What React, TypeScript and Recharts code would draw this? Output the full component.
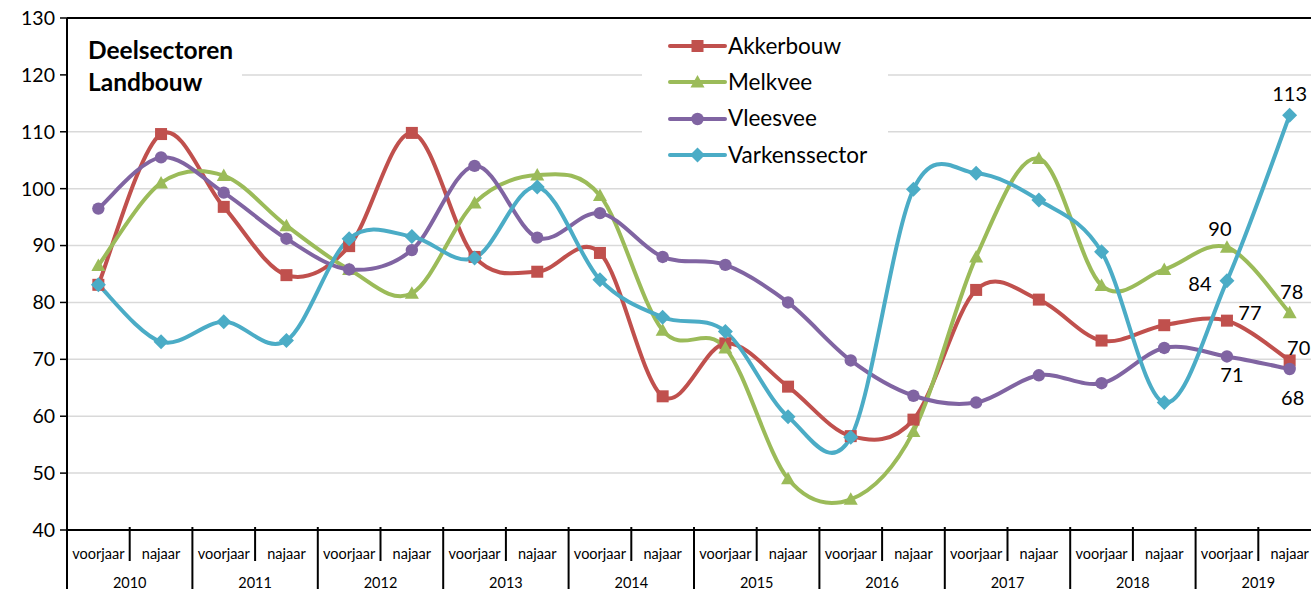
import React from "react";
import {
  LineChart,
  Line,
  XAxis,
  YAxis,
  CartesianGrid,
  Legend,
  LabelList,
  ReferenceLine,
} from "recharts";

const years = ["2010", "2011", "2012", "2013", "2014", "2015", "2016", "2017", "2018", "2019"];
const seasons = ["voorjaar", "najaar"];

const akkerbouw = [83.1, 109.6, 96.8, 84.8, 89.9, 109.8, 88.0, 85.4, 88.7, 63.5, 72.8, 65.2, 56.5, 59.4, 82.2, 80.5, 73.3, 76.0, 76.8, 69.8];
const melkvee = [86.5, 101.0, 102.3, 93.5, 85.8, 81.6, 97.5, 102.4, 98.8, 75.1, 72.0, 49.0, 45.4, 57.3, 88.0, 105.3, 83.0, 85.8, 89.7, 78.2];
const vleesvee = [96.5, 105.5, 99.3, 91.2, 85.8, 89.2, 104.0, 91.4, 95.7, 88.0, 86.6, 80.0, 69.8, 63.6, 62.4, 67.2, 65.8, 72.0, 70.5, 68.3];
const varkenssector = [83.1, 73.1, 76.6, 73.3, 91.2, 91.6, 87.8, 100.3, 84.0, 77.4, 74.9, 59.9, 56.3, 99.9, 102.7, 98.0, 88.9, 62.4, 83.8, 112.9];

const yTicks = [40, 50, 60, 70, 80, 90, 100, 110, 120, 130];

const data = years.flatMap((year, yi) =>
  seasons.map((season, si) => {
    const i = yi * 2 + si;
    return {
      cat: `${season} ${year}`,
      season,
      year,
      akkerbouw: akkerbouw[i],
      melkvee: melkvee[i],
      vleesvee: vleesvee[i],
      varkenssector: varkenssector[i],
    };
  })
);

const series = [
  { key: "akkerbouw", name: "Akkerbouw", color: "#C0504D", shape: "square" },
  { key: "melkvee", name: "Melkvee", color: "#9BBB59", shape: "triangle" },
  { key: "vleesvee", name: "Vleesvee", color: "#8064A2", shape: "circle" },
  { key: "varkenssector", name: "Varkenssector", color: "#4BACC6", shape: "diamond" },
];

// where the value labels of the last two points sit, relative to the point
const labelOffsets: Record<string, Record<number, [number, number]>> = {
  akkerbouw: { 18: [23, -9], 19: [9, -13] },
  melkvee: { 18: [-7, -19], 19: [2, -22] },
  vleesvee: { 18: [5, 18], 19: [3, 28] },
  varkenssector: { 18: [-27, 2], 19: [0, -22] },
};

const FONT = "Lato, 'Open Sans', sans-serif";
const CHART_W = 1322;
const CHART_H = 589;
const Y_W = 67;
const X_H = 59;
const M_TOP = 18;
const M_RIGHT = 1;
const BAND = (CHART_W - Y_W - M_RIGHT) / data.length;

// Excel-like smoothed line (Catmull-Rom through the points)
const excelCurve = (context: any) => {
  let pts: number[][] = [];
  return {
    areaStart() {},
    areaEnd() {},
    lineStart() {
      pts = [];
    },
    point(x: number, y: number) {
      pts.push([+x, +y]);
    },
    lineEnd() {
      const n = pts.length;
      if (!n) return;
      context.moveTo(pts[0][0], pts[0][1]);
      for (let i = 0; i < n - 1; i++) {
        const p0 = pts[Math.max(i - 1, 0)];
        const p1 = pts[i];
        const p2 = pts[i + 1];
        const p3 = pts[Math.min(i + 2, n - 1)];
        context.bezierCurveTo(
          p1[0] + (p2[0] - p0[0]) / 6,
          p1[1] + (p2[1] - p0[1]) / 6,
          p2[0] - (p3[0] - p1[0]) / 6,
          p2[1] - (p3[1] - p1[1]) / 6,
          p2[0],
          p2[1]
        );
      }
    },
  };
};

function Marker({ shape, cx, cy, color }: { shape: string; cx: number; cy: number; color: string }) {
  if (shape === "square") {
    return <rect x={cx - 6} y={cy - 6} width={12} height={12} fill={color} />;
  }
  if (shape === "triangle") {
    return <path d={`M${cx},${cy - 7}L${cx + 7},${cy + 5.5}L${cx - 7},${cy + 5.5}Z`} fill={color} />;
  }
  if (shape === "diamond") {
    return <path d={`M${cx},${cy - 7.5}L${cx + 7.5},${cy}L${cx},${cy + 7.5}L${cx - 7.5},${cy}Z`} fill={color} />;
  }
  return <circle cx={cx} cy={cy} r={6.2} fill={color} />;
}

const makeDot = (shape: string, color: string) => (props: any) => {
  const { cx, cy, index } = props;
  if (cx == null || cy == null) return <g key={`d-${index}`} />;
  return (
    <g key={`d-${index}`}>
      <Marker shape={shape} cx={cx} cy={cy} color={color} />
    </g>
  );
};

const makeLabel = (key: string) => (props: any) => {
  const { x, y, value, index } = props;
  const off = labelOffsets[key][index];
  if (!off) return null;
  return (
    <text
      x={x + off[0]}
      y={y + off[1]}
      textAnchor="middle"
      dominantBaseline="central"
      fontFamily={FONT}
      fontSize={20}
      fill="#000"
    >
      {Math.round(value)}
    </text>
  );
};

function SeasonTick(props: any) {
  const { x, y, payload, index } = props;
  const i = payload?.index ?? index;
  const item = data[i];
  const left = x - BAND / 2;
  const isYearStart = i % 2 === 0;
  return (
    <g>
      <line
        x1={left}
        x2={left}
        y1={y - 3}
        y2={isYearStart ? y + 62 : y + 31}
        stroke="#000"
        strokeWidth={2}
      />
      {i === data.length - 1 && (
        <line x1={x + BAND / 2} x2={x + BAND / 2} y1={y - 3} y2={y + 62} stroke="#000" strokeWidth={2} />
      )}
      <text x={x} y={y + 23} textAnchor="middle" dominantBaseline="central" fontFamily={FONT} fontSize={14.5} fill="#000">
        {item.season}
      </text>
      {isYearStart && (
        <text x={x + BAND / 2} y={y + 52} textAnchor="middle" dominantBaseline="central" fontFamily={FONT} fontSize={14.5} fill="#000">
          {item.year}
        </text>
      )}
    </g>
  );
}

function LegendBox(props: any) {
  const { payload } = props;
  const items = series.filter((s) => (payload || []).some((p: any) => p.dataKey === s.key));
  return (
    <div style={{ background: "#fff", width: 246, height: 145, paddingTop: 3, boxSizing: "border-box" }}>
      {items.map((s) => (
        <div key={s.key} style={{ display: "flex", alignItems: "center", height: 36.3 }}>
          <svg width={86} height={20} style={{ flexShrink: 0 }}>
            <line x1={28} x2={83} y1={10} y2={10} stroke={s.color} strokeWidth={4} strokeLinecap="round" />
            <Marker shape={s.shape} cx={55.5} cy={10} color={s.color} />
          </svg>
          <span style={{ fontFamily: FONT, fontSize: 22.5, color: "#000", lineHeight: 1 }}>{s.name}</span>
        </div>
      ))}
    </div>
  );
}

export default function App() {
  return (
    <div
      style={{
        position: "fixed",
        left: 0,
        top: 0,
        width: 1311,
        height: 589,
        overflow: "hidden",
        background: "#fff",
      }}
    >
      <LineChart
        width={CHART_W}
        height={CHART_H}
        data={data}
        margin={{ top: M_TOP, right: M_RIGHT, bottom: 0, left: 0 }}
      >
        <CartesianGrid vertical={false} stroke="#d9d9d9" strokeWidth={1.5} />
        <ReferenceLine y={130} stroke="#000" strokeWidth={2} />
        <XAxis
          dataKey="cat"
          interval={0}
          height={X_H}
          padding={{ left: BAND / 2, right: BAND / 2 }}
          tickSize={0}
          tickMargin={0}
          axisLine={{ stroke: "#000", strokeWidth: 2 }}
          tickLine={false}
          tick={<SeasonTick />}
        />
        <YAxis
          domain={[40, 130]}
          ticks={yTicks}
          interval={0}
          width={Y_W}
          tickSize={7}
          tickMargin={5}
          axisLine={{ stroke: "#000", strokeWidth: 2 }}
          tickLine={{ stroke: "#000", strokeWidth: 1.5 }}
          tick={{ fontFamily: FONT, fontSize: 19.5, fill: "#000" }}
        />
        <Legend
          layout="vertical"
          align="center"
          verticalAlign="middle"
          content={<LegendBox />}
          wrapperStyle={{ left: 642, top: 25, width: 246, height: 145 }}
        />
        {series.map((s) => (
          <Line
            key={s.key}
            dataKey={s.key}
            name={s.name}
            type={excelCurve as any}
            stroke={s.color}
            strokeWidth={4}
            dot={makeDot(s.shape, s.color)}
            activeDot={false}
            isAnimationActive={false}
          >
            <LabelList dataKey={s.key} content={makeLabel(s.key)} />
          </Line>
        ))}
      </LineChart>
      <div
        style={{
          position: "absolute",
          left: 68,
          top: 26,
          width: 174,
          height: 74,
          background: "#fff",
          fontFamily: FONT,
          fontWeight: 700,
          fontSize: 24.5,
          lineHeight: "32px",
          paddingLeft: 20,
          paddingTop: 8,
          boxSizing: "border-box",
          color: "#000",
          whiteSpace: "nowrap",
        }}
      >
        Deelsectoren
        <br />
        Landbouw
      </div>
    </div>
  );
}
